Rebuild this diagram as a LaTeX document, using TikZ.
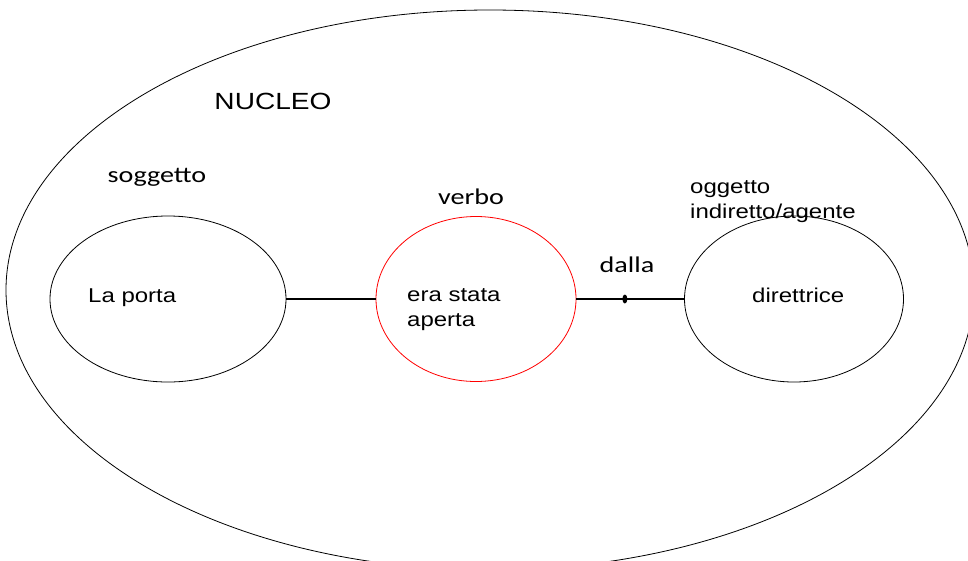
\documentclass[tikz,border=0pt]{standalone}
\usepackage{fontspec}
\setmainfont{Liberation Sans}[FakeStretch=1.2]
\newfontfamily\calibfont{Carlito}[FakeStretch=1.25]
\usetikzlibrary{shapes.geometric}

\begin{document}
\begin{tikzpicture}[x=1pt, y=-1pt,
	ring/.style={ellipse, draw, line width=0.8pt, inner sep=0pt},
	lbl/.style={inner sep=0pt, font=\fontsize{20}{25}\selectfont},
	clbl/.style={inner sep=0pt, font=\calibfont\fontsize{22.5}{27}\selectfont},
	dotmark/.style={ellipse, fill=black, inner sep=0pt, minimum width=5pt, minimum height=9pt}]

	\useasboundingbox (0,0) rectangle (968,560);

	\node (nucleo) [ring, minimum width=968pt, minimum height=560pt] at (490, 290) {};
	\node (lp) [ring, minimum width=236pt, minimum height=166pt] at (168, 299) {};
	\node (vb) [ring, draw=red, minimum width=200pt, minimum height=165pt] at (476, 299) {};
	\node (dr) [ring, minimum width=219pt, minimum height=166pt] at (794, 299) {};

	\path[line width=2.8pt]
	(lp) edge (vb)
	(vb) edge node[pos=0.45, dotmark] (dot) {} (dr);

	\node (tnucleo) [lbl, font=\fontsize{23.4}{28}\selectfont, anchor=base] at (273, 109) {NUCLEO};
	\node (tsogg) [clbl, anchor=base] at (157, 182) {soggetto};
	\node (tverbo) [clbl, anchor=base] at (471, 204) {verbo};
	\node (tdalla) [clbl, anchor=base] at (627, 272) {dalla};
	\node (togg) [lbl, anchor=base west, align=left] at (690, 218) {oggetto\\indiretto/agente};
	\node (tlp) [lbl, anchor=base west] at (88, 302) {La porta};
	\node (tvb) [lbl, anchor=base west, align=left] at (407, 326) {era stata\\aperta};
	\node (tdr) [lbl, anchor=base west] at (752, 302) {direttrice};

\end{tikzpicture}
\end{document}
